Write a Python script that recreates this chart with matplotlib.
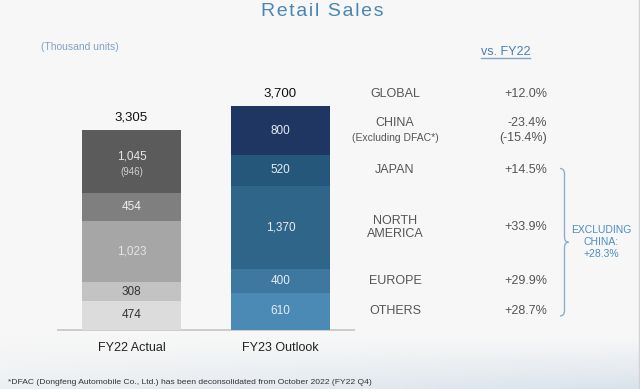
import numpy as np
import matplotlib.pyplot as plt
import matplotlib.patches as mpatches
from matplotlib.path import Path
from matplotlib.lines import Line2D
from matplotlib.transforms import blended_transform_factory

plt.rcParams['font.family'] = ['Liberation Sans', 'DejaVu Sans']

# Data (thousand units), stacked from the bottom
years = ['FY22 Actual', 'FY23 Outlook']
regions = ['OTHERS', 'EUROPE', 'NORTH\nAMERICA', 'JAPAN', 'CHINA']
fy22 = [474, 308, 1023, 454, 1045]
fy23 = [610, 400, 1370, 520, 800]
totals = [3305, 3700]
fy22_china_ex_dfac = 946
growth = ['+28.7%', '+29.9%', '+33.9%', '+14.5%', '-23.4%']
global_growth = '+12.0%'
china_ex_dfac_growth = '(-15.4%)'
ex_china_growth = '+28.3%'

grays = ['#dcdcdc', '#c3c3c3', '#a6a6a6', '#7f7f7f', '#5b5b5b']
blues = ['#4a8ab4', '#3e77a0', '#2f6589', '#25577a', '#1f3562']
gray_txt = ['#333333', '#333333', '#e4e4e4', '#eeeeee', '#e6e6e6']

W, H = 640, 389
fig = plt.figure(figsize=(6.4, 3.89), dpi=100, facecolor='#f7f7f7')

# soft background gradient towards the bottom right
bg = fig.add_axes([0, 0, 1, 1], zorder=-1)
yy, xx = np.mgrid[0:H, 0:W]
wgt = np.clip((yy - 335) / 54.0, 0, 1) ** 1.2 * (0.35 + 0.65 * xx / W)
c0 = np.array([0xf7, 0xf7, 0xf7]) / 255
c1 = np.array([0xd8, 0xe2, 0xeb]) / 255
img = c0[None, None, :] * (1 - wgt[..., None]) + c1[None, None, :] * wgt[..., None]
bg.imshow(img, aspect='auto', extent=[0, W, H, 0])
bg.axis('off')

# main axes mapped to pixels
px_unit = 149.0          # px between bar centres
k = 0.0603               # px per thousand units
base = 59.5              # baseline px from bottom
ax = fig.add_axes([0, 0, 1, 1])
ax.set_facecolor('none')
ax.set_xlim(-131.5 / px_unit, (W - 131.5) / px_unit)
ax.set_ylim(-base / k, (H - base) / k)
ax.axis('off')

x = np.arange(len(years))
bw = 99 / px_unit
for vals, cols, xi in [(fy22, grays, 0), (fy23, blues, 1)]:
    bottom = 0
    for i, v in enumerate(vals):
        ax.bar(xi, v, bottom=bottom, width=bw, color=cols[i], linewidth=0, zorder=2)
        bottom += v

ax.hlines(-8, (57 - 131.5) / px_unit, (355 - 131.5) / px_unit, color='#c9c9c9', lw=1.3, zorder=1)

# segment labels
cum22 = np.cumsum([0] + fy22)
cum23 = np.cumsum([0] + fy23)
for i, v in enumerate(fy22):
    yc = cum22[i] + v / 2
    if i == 4:
        ax.annotate(f'{v:,}', (0, yc), xytext=(0, 3.5), textcoords='offset points',
                    ha='center', va='center', fontsize=8.5, color=gray_txt[i], zorder=3)
        ax.annotate(f'({fy22_china_ex_dfac})', (0, yc), xytext=(0, -7.5), textcoords='offset points',
                    ha='center', va='center', fontsize=7, color='#d0d0d0', zorder=3)
    else:
        ax.text(0, yc, f'{v:,}', ha='center', va='center', fontsize=8.5, color=gray_txt[i], zorder=3)
for i, v in enumerate(fy23):
    ax.text(1, cum23[i] + v / 2, f'{v:,}', ha='center', va='center', fontsize=8.5,
            color='#e6edf3', zorder=3)

for xi, t in zip(x, totals):
    ax.annotate(f'{t:,}', (xi, t), xytext=(0, 9), textcoords='offset points',
                ha='center', va='center', fontsize=9.5, color='#111111')
    ax.annotate(years[xi], (xi, 0), xytext=(0, -13), textcoords='offset points',
                ha='center', va='center', fontsize=9, color='#222222')

# right-hand table
tr = blended_transform_factory(ax.transAxes, ax.transData)
xl, xr = 395 / W, 547 / W
fs = 9
ax.annotate('GLOBAL', (xl, totals[1]), xycoords=tr, xytext=(0, 9), textcoords='offset points',
            ha='center', va='center', fontsize=fs, color='#555555')
ax.annotate(global_growth, (xr, totals[1]), xycoords=tr, xytext=(0, 9), textcoords='offset points',
            ha='right', va='center', fontsize=fs, color='#555555')
for i, (r, g) in enumerate(zip(regions, growth)):
    yc = cum23[i] + fy23[i] / 2
    if r == 'CHINA':
        ax.annotate(r, (xl, yc), xycoords=tr, xytext=(0, 5.5), textcoords='offset points',
                    ha='center', va='center', fontsize=fs, color='#555555')
        ax.annotate('(Excluding DFAC*)', (xl, yc), xycoords=tr, xytext=(0, -5.5),
                    textcoords='offset points', ha='center', va='center', fontsize=7.5, color='#555555')
        ax.annotate(g, (xr, yc), xycoords=tr, xytext=(0, 5.5), textcoords='offset points',
                    ha='right', va='center', fontsize=fs, color='#555555')
        ax.annotate(china_ex_dfac_growth, (xr, yc), xycoords=tr, xytext=(0, -5.5),
                    textcoords='offset points', ha='right', va='center', fontsize=fs, color='#555555')
    else:
        ax.text(xl, yc, r, transform=tr, ha='center', va='center', fontsize=fs,
                color='#555555', linespacing=1.15)
        ax.text(xr, yc, g, transform=tr, ha='right', va='center', fontsize=fs, color='#555555')

# brace spanning Japan .. Others
yt = cum23[3] + fy23[3] / 2 + 30
yb = cum23[0] + fy23[0] / 2 - 80
ym = (yt + yb) / 2
x0, x1, x2 = 560 / W, 564.5 / W, 568.5 / W
r = 90
verts = [(x0, yt), (x1, yt), (x1, yt - r), (x1, ym + r), (x1, ym), (x2, ym),
         (x1, ym), (x1, ym - r), (x1, yb + r), (x1, yb), (x0, yb)]
codes = [Path.MOVETO, Path.CURVE3, Path.CURVE3, Path.LINETO, Path.CURVE3, Path.CURVE3,
         Path.CURVE3, Path.CURVE3, Path.LINETO, Path.CURVE3, Path.CURVE3]
ax.add_patch(mpatches.PathPatch(Path(verts, codes), transform=tr, fill=False,
                                ec='#8db0cd', lw=1.0))
ax.text(601 / W, ym, f'EXCLUDING\nCHINA:\n{ex_china_growth}', transform=tr, ha='center',
        va='center', fontsize=7.5, color='#4a8ec0', linespacing=1.25)

# titles and notes
title = '\u200a'.join('Retail Sales')
fig.text(322 / W, 1 - 12 / H, title, ha='center', va='center', fontsize=14, color='#4a86b4')
fig.text(41 / W, 1 - 47 / H, '(Thousand units)', ha='left', va='center', fontsize=7.5, color='#7fa3c4')
fig.text(481 / W, 1 - 52 / H, 'vs. FY22', ha='left', va='center', fontsize=9, color='#4a7fb0')
fig.add_artist(Line2D([481 / W, 530 / W], [1 - 57.5 / H, 1 - 57.5 / H], color='#7fa6c8', lw=1))
fig.text(8 / W, 1 - 382 / H,
         '*DFAC (Dongfeng Automobile Co., Ltd.) has been deconsolidated from October 2022 (FY22 Q4)',
         ha='left', va='center', fontsize=6.1, color='#333333')
fig.add_artist(Line2D([638.5 / W, 638.5 / W], [0, 1], color='#d2d2d2', lw=1))

fig.savefig('out.png', dpi=100, facecolor=fig.get_facecolor())
